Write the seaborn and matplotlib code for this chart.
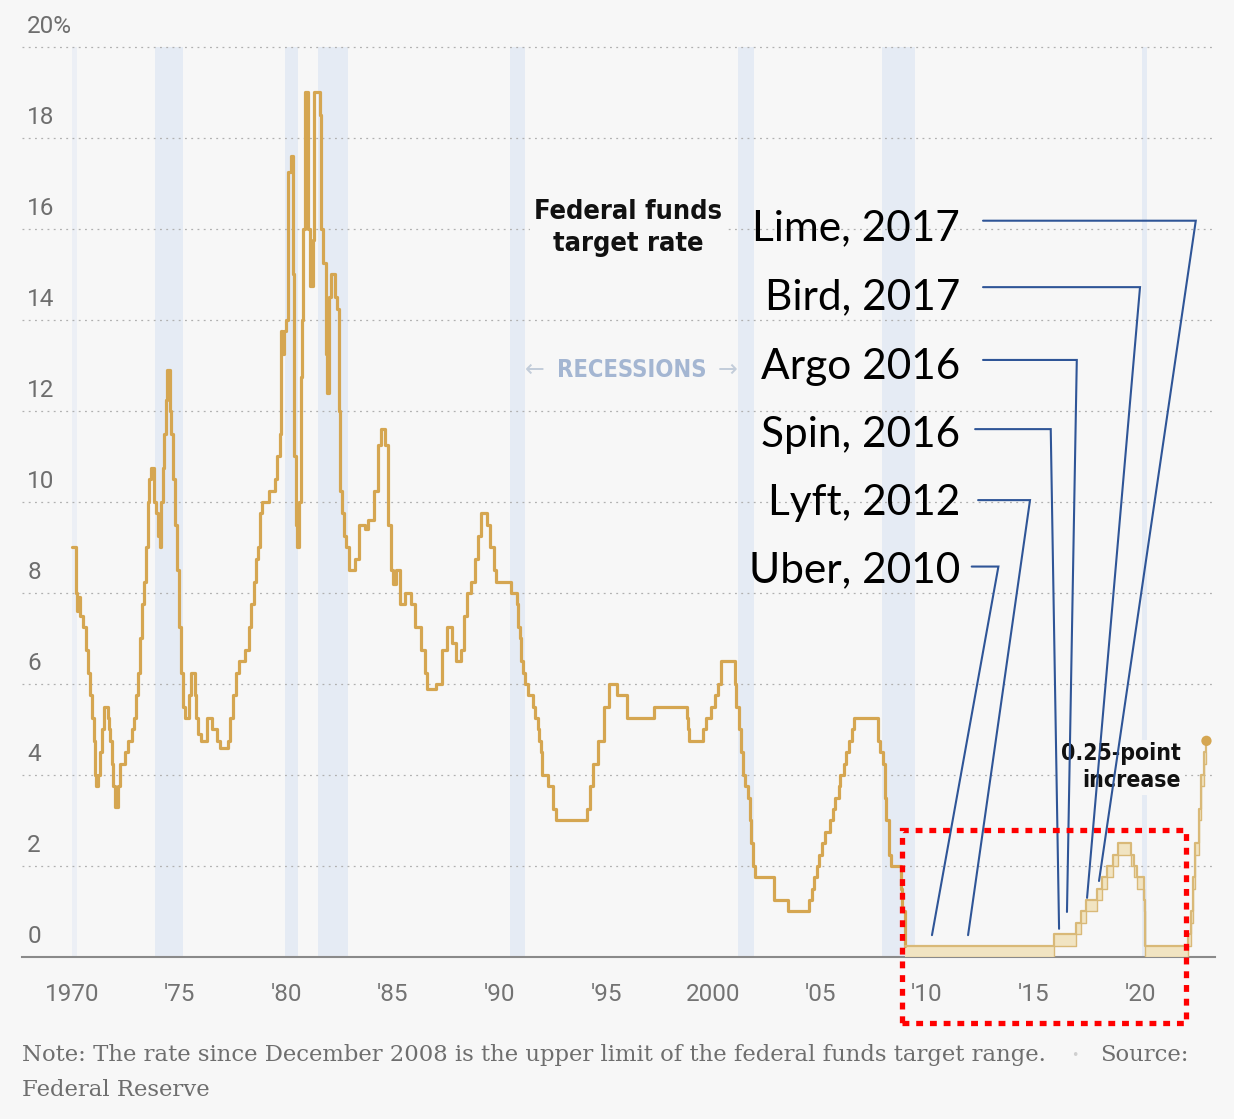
import matplotlib
matplotlib.use("Agg")
import matplotlib.pyplot as plt
import numpy as np
import pandas as pd
import seaborn as sns
from matplotlib.patches import Rectangle

# ---------------- data ----------------
step_years = [
    1970.00, 1970.15, 1970.20, 1970.28, 1970.35, 1970.50, 1970.62, 1970.72, 1970.82, 1970.92,
    1971.00, 1971.08, 1971.12, 1971.22, 1971.30, 1971.40, 1971.50, 1971.65, 1971.72, 1971.78,
    1971.85, 1971.92, 1972.00, 1972.15, 1972.25, 1972.45, 1972.60, 1972.80, 1972.90, 1973.00,
    1973.08, 1973.15, 1973.25, 1973.35, 1973.45, 1973.52, 1973.60, 1973.70, 1973.80, 1973.90,
    1974.00, 1974.08, 1974.15, 1974.22, 1974.30, 1974.38, 1974.45, 1974.55, 1974.62, 1974.70,
    1974.80, 1974.88, 1974.98, 1975.08, 1975.18, 1975.25, 1975.45, 1975.55, 1975.72, 1975.80,
    1975.90, 1976.00, 1976.30, 1976.55, 1976.75, 1976.90, 1977.30, 1977.40, 1977.50, 1977.65,
    1977.80, 1978.10, 1978.25, 1978.35, 1978.50, 1978.60, 1978.70, 1978.80, 1978.88, 1979.20,
    1979.50, 1979.60, 1979.70, 1979.75, 1979.82, 1979.90, 1980.00, 1980.08, 1980.22, 1980.32,
    1980.38, 1980.45, 1980.50, 1980.62, 1980.68, 1980.74, 1980.80, 1980.88, 1981.05, 1981.10,
    1981.25, 1981.32, 1981.58, 1981.65, 1981.75, 1981.85, 1981.90, 1982.00, 1982.12, 1982.30,
    1982.40, 1982.48, 1982.55, 1982.62, 1982.70, 1982.82, 1982.95, 1983.25, 1983.40, 1983.70,
    1983.85, 1984.10, 1984.30, 1984.45, 1984.65, 1984.78, 1984.90, 1985.00, 1985.15, 1985.35,
    1985.55, 1985.85, 1986.05, 1986.30, 1986.50, 1986.60, 1987.00, 1987.30, 1987.55, 1987.75,
    1987.95, 1988.20, 1988.35, 1988.45, 1988.65, 1988.85, 1989.00, 1989.12, 1989.40, 1989.55,
    1989.75, 1989.85, 1990.55, 1990.80, 1990.88, 1990.95, 1991.02, 1991.10, 1991.20, 1991.35,
    1991.55, 1991.65, 1991.78, 1991.85, 1991.92, 1991.97, 1992.25, 1992.50, 1992.65, 1994.10,
    1994.25, 1994.35, 1994.62, 1994.87, 1995.10, 1995.50, 1995.95, 1997.25, 1998.75, 1998.80,
    1998.88, 1999.50, 1999.65, 1999.90, 2000.10, 2000.22, 2000.38, 2001.00, 2001.08, 2001.20,
    2001.30, 2001.38, 2001.48, 2001.63, 2001.70, 2001.78, 2001.85, 2001.95, 2002.85, 2003.48,
    2004.50, 2004.62, 2004.72, 2004.87, 2004.95, 2005.10, 2005.22, 2005.45, 2005.60, 2005.72,
    2005.87, 2005.95, 2006.10, 2006.22, 2006.37, 2006.50, 2006.60, 2007.70, 2007.82, 2007.95,
    2008.05, 2008.08, 2008.22, 2008.33, 2008.78, 2008.83, 2008.96,
]
step_rates = [
    9.00, 8.00, 7.60, 7.90, 7.50, 7.25, 6.75, 6.25, 5.75, 5.25,
    4.75, 4.00, 3.75, 4.00, 4.50, 5.00, 5.50, 5.25, 5.00, 4.75,
    4.25, 3.75, 3.30, 3.75, 4.25, 4.50, 4.75, 5.00, 5.25, 5.75,
    6.25, 7.00, 7.75, 8.25, 9.00, 10.00, 10.50, 10.75, 10.00, 9.75,
    9.25, 9.00, 10.00, 10.75, 11.50, 12.25, 12.90, 12.00, 11.50, 10.50,
    9.50, 8.50, 7.25, 6.25, 5.50, 5.25, 5.75, 6.25, 5.75, 5.25,
    4.90, 4.75, 5.25, 5.00, 4.75, 4.60, 4.75, 5.25, 5.75, 6.25,
    6.50, 6.75, 7.25, 7.75, 8.25, 8.75, 9.00, 9.75, 10.00, 10.25,
    10.50, 11.00, 11.50, 13.75, 13.25, 13.75, 14.00, 17.25, 17.60, 15.00,
    11.00, 9.50, 9.00, 10.00, 12.75, 14.00, 16.00, 19.00, 16.00, 14.75,
    15.75, 19.00, 18.50, 16.00, 15.25, 13.25, 12.40, 14.50, 15.00, 14.50,
    14.25, 12.00, 10.25, 9.75, 9.25, 9.00, 8.50, 8.75, 9.50, 9.40,
    9.60, 10.25, 11.25, 11.60, 11.25, 9.50, 8.50, 8.20, 8.50, 7.75,
    8.00, 7.75, 7.25, 6.75, 6.25, 5.90, 6.00, 6.75, 7.25, 6.90,
    6.50, 6.75, 7.50, 8.00, 8.25, 8.75, 9.25, 9.75, 9.50, 9.00,
    8.50, 8.25, 8.00, 7.75, 7.25, 7.00, 6.50, 6.25, 6.00, 5.75,
    5.50, 5.25, 5.00, 4.75, 4.50, 4.00, 3.75, 3.25, 3.00, 3.25,
    3.75, 4.25, 4.75, 5.50, 6.00, 5.75, 5.25, 5.50, 5.25, 5.00,
    4.75, 5.00, 5.25, 5.50, 5.75, 6.00, 6.50, 6.00, 5.50, 5.00,
    4.50, 4.00, 3.75, 3.50, 3.00, 2.50, 2.00, 1.75, 1.25, 1.00,
    1.25, 1.50, 1.75, 2.00, 2.25, 2.50, 2.75, 3.00, 3.25, 3.50,
    3.75, 4.00, 4.25, 4.50, 4.75, 5.00, 5.25, 4.75, 4.50, 4.25,
    3.50, 3.00, 2.25, 2.00, 1.50, 1.00, 0.25,
]
# upper limit of the target range (since December 2008)
range_years = [
    2008.96, 2015.96, 2016.96, 2017.20, 2017.45, 2017.96, 2018.22, 2018.45, 2018.72, 2018.96,
    2019.58, 2019.70, 2019.83, 2020.17, 2020.21, 2022.21, 2022.35, 2022.46, 2022.57, 2022.72,
    2022.84, 2022.96, 2023.09,
]
range_upper = [
    0.25, 0.50, 0.75, 1.00, 1.25, 1.50, 1.75, 2.00, 2.25, 2.50,
    2.25, 2.00, 1.75, 1.25, 0.25, 0.50, 1.00, 1.75, 2.50, 3.25,
    4.00, 4.50, 4.75,
]
range_width = 0.25

recession_starts = [1970.00, 1973.87, 1979.97, 1981.50, 1990.50, 2001.17, 2007.90, 2020.05]
recession_ends = [1970.20, 1975.18, 1980.55, 1982.90, 1991.17, 2001.91, 2009.45, 2020.33]

x_tick_years = [1970, 1975, 1980, 1985, 1990, 1995, 2000, 2005, 2010, 2015, 2020]
x_tick_labels = ["1970", "'75", "'80", "'85", "'90", "'95", "2000", "'05", "'10", "'15", "'20"]
y_tick_values = [0, 2, 4, 6, 8, 10, 12, 14, 16, 18, 20]
y_tick_labels = ["0", "2", "4", "6", "8", "10", "12", "14", "16", "18", "20%"]

company_labels = ["Lime, 2017", "Bird, 2017", "Argo 2016", "Spin, 2016", "Lyft, 2012", "Uber, 2010"]
company_target_years = [2018.06, 2017.50, 2016.56, 2016.19, 2011.93, 2010.24]
company_target_rates = [1.67, 1.30, 0.99, 0.62, 0.48, 0.48]

# ---------------- layout ----------------
W, H, DPI = 1234, 1119, 100
X0_PX, X1_PX = 22, 1215
Y0_PX = 957
XLIM = (1967.64, 2023.49)
YLIM = (0, 21.03)

label_text_y = [16.02, 14.50, 12.97, 11.47, 9.98, 8.50]
label_line_y = [16.18, 14.72, 13.12, 11.60, 10.04, 8.58]
label_line_x0 = [2012.63, 2012.63, 2012.63, 2012.26, 2012.40, 2012.10]
label_elbow_x = [2022.59, 2019.98, 2017.02, 2015.80, 2014.83, 2013.35]
label_text_x = 2011.55

BG = "#f7f7f7"
GOLD = "#d5a651"
GOLD_LIGHT = "#d9b978"
FILL_LIGHT = "#f1e4c2"
BAND = "#e5ebf4"
BLUE = "#2f5597"

sns.set_style("white", {"axes.facecolor": BG, "figure.facecolor": BG})
plt.rcParams["font.family"] = ["Roboto", "DejaVu Sans"]

fig = plt.figure(figsize=(W / DPI, H / DPI), dpi=DPI)
ax = fig.add_axes([X0_PX / W, 1 - Y0_PX / H, (X1_PX - X0_PX) / W, Y0_PX / H])
ax.set_facecolor(BG)
ax.set_xlim(*XLIM)
ax.set_ylim(*YLIM)

# recession bands
for i, (s, e) in enumerate(zip(recession_starts, recession_ends)):
    ax.fill_betweenx([0, 20], s, e, color=BAND, lw=0, zorder=0.2,
                     alpha=0.6 if i == 0 else 1.0)

# grid
ax.set_yticks(y_tick_values)
ax.set_axisbelow(True)
ax.yaxis.grid(True, linestyle=(0, (1.5, 3.5)), color="#b0b0b0", lw=0.9)
ax.xaxis.grid(False)
ax.tick_params(axis="y", left=False, labelleft=False)
for v, lab in zip(y_tick_values, y_tick_labels):
    ax.text(1967.88, v + 0.45, lab, ha="left", va="center", fontsize=17.5, color="#6e6e6e", zorder=1)

# main series
df_main = pd.DataFrame({"year": step_years, "rate": step_rates})
sns.lineplot(data=df_main, x="year", y="rate", drawstyle="steps-post", color=GOLD,
             lw=2.3, estimator=None, sort=False, ax=ax, zorder=3)

# target range since 2008
upper = np.array(range_upper)
lower = upper - range_width
ax.fill_between(range_years, lower, upper, step="post", color=FILL_LIGHT, lw=0, zorder=2.8)
df_up = pd.DataFrame({"year": range_years, "rate": upper})
df_lo = pd.DataFrame({"year": range_years, "rate": lower})
sns.lineplot(data=df_up, x="year", y="rate", drawstyle="steps-post", color=GOLD_LIGHT,
             lw=1.6, estimator=None, sort=False, ax=ax, zorder=3)
sns.lineplot(data=df_lo, x="year", y="rate", drawstyle="steps-post", color=GOLD_LIGHT,
             lw=1.0, estimator=None, sort=False, ax=ax, zorder=3)
sns.scatterplot(x=[range_years[-1]], y=[range_upper[-1]], color=GOLD, s=55, edgecolor="none",
                ax=ax, zorder=4)

# axes styling
for sp in ["left", "right", "top"]:
    ax.spines[sp].set_visible(False)
ax.spines["bottom"].set_color("#8a8a8a")
ax.spines["bottom"].set_linewidth(1.5)
ax.set_xticks(x_tick_years)
ax.set_xticklabels(x_tick_labels)
ax.tick_params(axis="x", length=7.5, width=1.1, color="#8a8a8a", pad=11,
               labelsize=17.5, labelcolor="#737373")
ax.set_xlabel("")
ax.set_ylabel("")

# titles / notes inside chart
bold_kw = dict(family="DejaVu Sans", fontstretch="condensed", fontweight="bold")
ax.text(1996.01, 16.02, "Federal funds\ntarget rate", ha="center", va="center",
        fontsize=19.5, color="#111111", linespacing=1.3, zorder=5,
        bbox=dict(boxstyle="square,pad=0.15", fc=BG, ec="none"), **bold_kw)
ax.text(1996.19, 12.90, "RECESSIONS", ha="center", va="center", fontsize=17,
        color="#a4b6d2", zorder=5,
        bbox=dict(boxstyle="square,pad=0.1", fc=BG, ec="none"), **bold_kw)
ax.text(1991.65, 12.90, "\u2190", ha="center", va="center", fontsize=17, family="DejaVu Sans",
        color="#c3cdda", zorder=5)
ax.text(2000.65, 12.90, "\u2192", ha="center", va="center", fontsize=17, family="DejaVu Sans",
        color="#c3cdda", zorder=5)
ax.text(2021.9, 4.17, "0.25-point\nincrease", ha="right", va="center", fontsize=16.5,
        color="#111111", linespacing=1.22, zorder=5,
        bbox=dict(boxstyle="square,pad=0.1", fc=BG, ec="none"), **bold_kw)

# company annotations
for lab, ty, ly, lx0, ex, tx, tr in zip(company_labels, label_text_y, label_line_y, label_line_x0,
                                         label_elbow_x, company_target_years, company_target_rates):
    ax.text(label_text_x, ty, lab, ha="right", va="center", fontsize=30.5, family="Lato",
            color="black", zorder=6)
    ax.plot([lx0, ex, tx], [ly, ly, tr], color=BLUE, lw=1.5, zorder=6, solid_joinstyle="miter")

# red dotted highlight box
rect = Rectangle((2008.86, -1.44), 2022.12 - 2008.86, 2.78 + 1.44, fill=False, ec="#ff0000",
                 lw=3.8, linestyle=(0, (1.3, 1.3)), clip_on=False, zorder=7)
ax.add_patch(rect)

# footnote
foot_kw = dict(fontsize=16.4, family="DejaVu Serif", color="#6e6e6e")
fig.text(22 / W, 1 - 1055 / H,
         "Note: The rate since December 2008 is the upper limit of the federal funds target range.",
         ha="left", va="center", **foot_kw)
fig.text(1075 / W, 1 - 1055 / H, "\u2022", ha="center", va="center", fontsize=9,
         family="DejaVu Sans", color="#d0d0d0")
fig.text(1100 / W, 1 - 1055 / H, "Source:", ha="left", va="center", **foot_kw)
fig.text(22 / W, 1 - 1090 / H, "Federal Reserve", ha="left", va="center", **foot_kw)

fig.savefig("out.png", dpi=DPI, facecolor=BG)
